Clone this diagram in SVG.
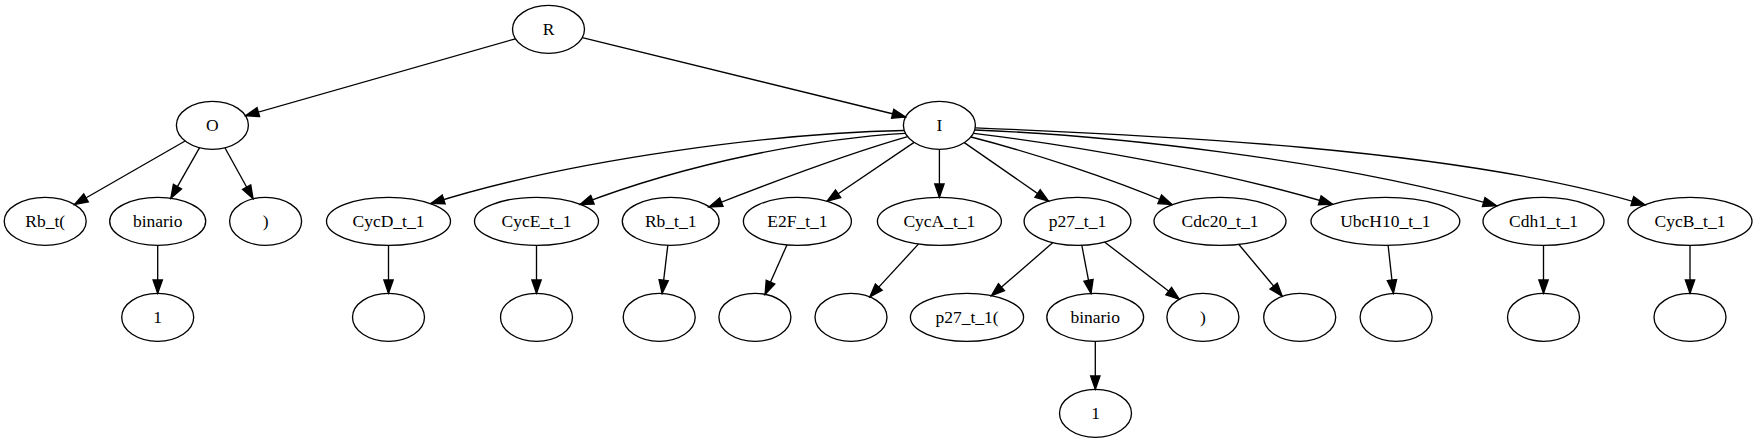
<svg xmlns="http://www.w3.org/2000/svg" width="1757" height="443" viewBox="0 0 1757 443">
<style>
.n ellipse{fill:none;stroke:#000;stroke-width:1.33}
.n text{font-family:"Liberation Serif","Times New Roman",serif;font-size:17.5px;text-anchor:middle;fill:#000}
#edges path{fill:none;stroke:#000;stroke-width:1.33;marker-end:url(#arr)}
</style>
<defs>
<marker id="arr" markerUnits="userSpaceOnUse" viewBox="-1 -6 16 12" markerWidth="16" markerHeight="12" refX="13.33" refY="0" orient="auto">
<path d="M0,-4.67 L13.33,0 L0,4.67 z" fill="#000" stroke="#000" stroke-width="1.33"/>
</marker>
</defs>
<rect width="1757" height="443" fill="#fff"/>
<g id="edges">
<path d="M515.4,38.8 L245.5,115.8"/>
<path d="M582.3,37.6 L905.6,117"/>
<path d="M185.1,141 L74.5,204.5"/>
<path d="M199.6,147.7 L170.85,198.2"/>
<path d="M224.9,147.8 L253.1,198.8"/>
<path d="M157.7,245.3 L157.7,293.3"/>
<path d="M904,130.5 C780,133 575,158 431,203.5"/>
<path d="M905,133.3 C820,138 690,162 580,204.5"/>
<path d="M907.7,136.6 C850,153 775,181 709,207"/>
<path d="M914.1,142.4 L827.1,201.2"/>
<path d="M939.4,149.3 L939.4,197.3"/>
<path d="M964.3,142.6 L1048.5,201.1"/>
<path d="M971,137 C1030,152 1110,178 1172,204.5"/>
<path d="M973.8,133.3 C1070,145 1220,170 1332.5,204.2"/>
<path d="M975,130 C1100,135 1330,158 1496.5,205.8"/>
<path d="M975.2,127.8 C1150,135 1460,148 1645,205"/>
<path d="M388.5,245.3 L388.5,293.3"/>
<path d="M536.5,245.3 L536.5,293.3"/>
<path d="M667.8,245.3 L662.1,293.4"/>
<path d="M787,244.85 L765.1,294.3"/>
<path d="M918.6,243.9 L869.8,296.9"/>
<path d="M1052.9,242.6 L991.4,295.8"/>
<path d="M1081.8,245.2 L1091,293.4"/>
<path d="M1104.5,242 L1179.3,299.2"/>
<path d="M1095.3,341.3 L1095.3,389.3"/>
<path d="M1238.7,244.3 L1282.2,296.3"/>
<path d="M1388.1,245.3 L1393.4,293.3"/>
<path d="M1543.5,245.3 L1543.5,293.3"/>
<path d="M1690,245.3 L1690,293.3"/>
</g>
<g id="R" class="n"><ellipse cx="548.5" cy="29.3" rx="36" ry="24"/><text x="548.5" y="34.8">R</text></g>
<g id="O" class="n"><ellipse cx="212.4" cy="125.3" rx="36" ry="24"/><text x="212.4" y="130.8">O</text></g>
<g id="I" class="n"><ellipse cx="939.4" cy="125.3" rx="36" ry="24"/><text x="939.4" y="130.8">I</text></g>
<g id="Rb_t_open" class="n"><ellipse cx="45.2" cy="221.3" rx="41" ry="24"/><text x="45.2" y="226.8">Rb_t(</text></g>
<g id="binario_1" class="n"><ellipse cx="157.7" cy="221.3" rx="48" ry="24"/><text x="157.7" y="226.8">binario</text></g>
<g id="close_1" class="n"><ellipse cx="265.6" cy="221.3" rx="36" ry="24"/><text x="265.6" y="226.8">)</text></g>
<g id="CycD_t_1" class="n"><ellipse cx="388.5" cy="221.3" rx="62" ry="24"/><text x="388.5" y="226.8">CycD_t_1</text></g>
<g id="CycE_t_1" class="n"><ellipse cx="536.5" cy="221.3" rx="62" ry="24"/><text x="536.5" y="226.8">CycE_t_1</text></g>
<g id="Rb_t_1" class="n"><ellipse cx="670.7" cy="221.3" rx="48.4" ry="24"/><text x="670.7" y="226.8">Rb_t_1</text></g>
<g id="E2F_t_1" class="n"><ellipse cx="797.4" cy="221.3" rx="54" ry="24"/><text x="797.4" y="226.8">E2F_t_1</text></g>
<g id="CycA_t_1" class="n"><ellipse cx="939.4" cy="221.3" rx="62" ry="24"/><text x="939.4" y="226.8">CycA_t_1</text></g>
<g id="p27_t_1" class="n"><ellipse cx="1077.5" cy="221.3" rx="53.4" ry="24"/><text x="1077.5" y="226.8">p27_t_1</text></g>
<g id="Cdc20_t_1" class="n"><ellipse cx="1220" cy="221.3" rx="66" ry="24"/><text x="1220" y="226.8">Cdc20_t_1</text></g>
<g id="UbcH10_t_1" class="n"><ellipse cx="1385.4" cy="221.3" rx="74.4" ry="24"/><text x="1385.4" y="226.8">UbcH10_t_1</text></g>
<g id="Cdh1_t_1" class="n"><ellipse cx="1543.5" cy="221.3" rx="60.5" ry="24"/><text x="1543.5" y="226.8">Cdh1_t_1</text></g>
<g id="CycB_t_1" class="n"><ellipse cx="1690" cy="221.3" rx="62" ry="24"/><text x="1690" y="226.8">CycB_t_1</text></g>
<g id="one_1" class="n"><ellipse cx="157.7" cy="317.3" rx="36" ry="24"/><text x="157.7" y="322.8">1</text></g>
<g id="empty_1" class="n"><ellipse cx="388.5" cy="317.3" rx="36" ry="24"/></g>
<g id="empty_2" class="n"><ellipse cx="536.5" cy="317.3" rx="36" ry="24"/></g>
<g id="empty_3" class="n"><ellipse cx="659.2" cy="317.3" rx="36" ry="24"/></g>
<g id="empty_4" class="n"><ellipse cx="754.9" cy="317.3" rx="36" ry="24"/></g>
<g id="empty_5" class="n"><ellipse cx="851" cy="317.3" rx="36" ry="24"/></g>
<g id="p27_t_1_open" class="n"><ellipse cx="967" cy="317.3" rx="56.6" ry="24"/><text x="967" y="322.8">p27_t_1(</text></g>
<g id="binario_2" class="n"><ellipse cx="1095.2" cy="317.3" rx="48.4" ry="24"/><text x="1095.2" y="322.8">binario</text></g>
<g id="close_2" class="n"><ellipse cx="1202.9" cy="317.3" rx="36" ry="24"/><text x="1202.9" y="322.8">)</text></g>
<g id="empty_6" class="n"><ellipse cx="1299.7" cy="317.3" rx="36" ry="24"/></g>
<g id="empty_7" class="n"><ellipse cx="1396.1" cy="317.3" rx="36" ry="24"/></g>
<g id="empty_8" class="n"><ellipse cx="1543.5" cy="317.3" rx="36" ry="24"/></g>
<g id="empty_9" class="n"><ellipse cx="1690" cy="317.3" rx="36" ry="24"/></g>
<g id="one_2" class="n"><ellipse cx="1095.5" cy="413.3" rx="36" ry="24"/><text x="1095.5" y="418.8">1</text></g>
</svg>
